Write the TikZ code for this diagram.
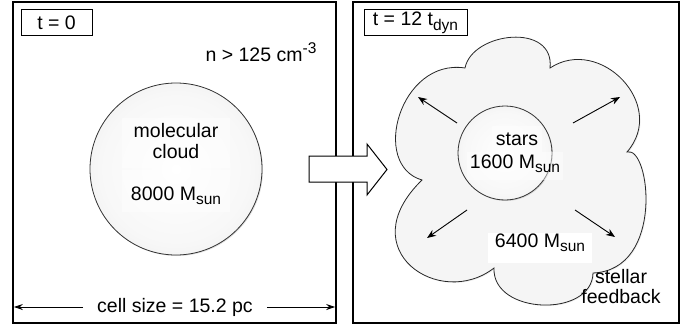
\documentclass[tikz,border=0pt]{standalone}
\usepackage{fontspec}
\setmainfont{Liberation Sans}
\usetikzlibrary{arrows.meta,shadows}
\newcommand\subx[1]{\raisebox{-0.45ex}{\fontsize{15.5}{16}\selectfont #1}}
\newcommand\supx[1]{\raisebox{0.85ex}{\fontsize{15.5}{16}\selectfont #1}}
\pgfdeclareradialshading{spherelight}{\pgfpoint{0bp}{0bp}}{color(0bp)=(white); color(22bp)=(white!97!black); color(40bp)=(white!90!black); color(50bp)=(white!80!black)}
\begin{document}
\begin{tikzpicture}[x=1pt,y=1pt,
  every node/.style={font=\fontsize{19.5}{22}\selectfont, inner sep=0pt},
  panel/.style={draw=black,line width=1.6pt},
  tag/.style={draw=black,line width=1pt,minimum height=26pt},
  sphere/.style={draw=black!80,line width=0.8pt,shading=spherelight,
    drop shadow={opacity=0.25,shadow xshift=1pt,shadow yshift=-1pt}},
  cloudfill/.style={draw=black!85,line width=0.8pt,fill=black!4,
    drop shadow={opacity=0.15,shadow xshift=1pt,shadow yshift=-1pt}},
  txt/.style={anchor=base},
  haze/.style={fill=white,fill opacity=0.45,text opacity=1},
  fb/.style={line width=0.9pt,-{Stealth[length=9pt,width=7pt]}},
  dim/.style={line width=0.9pt,-{Stealth[length=9pt,width=6pt]}}]
\useasboundingbox (0,0) rectangle (690,330);
% panels
\draw[panel] (13,7) rectangle (336,328);
\draw[panel] (353,7) rectangle (679,328);
% labels of panels
\node[tag,minimum width=71pt] (t0) at (56.5,307) {t = 0};
\node[tag,minimum width=103pt] (t12) at (415.5,307) {t = 12 t\subx{dyn}};
% left panel
\node[txt] (dens) at (261,268) {n > 125 cm\supx{-3}};
\node[sphere,circle,minimum size=172pt] (mc) at (176,161) {};
\node[haze,minimum width=108pt,minimum height=50pt] (mcbox1) at (176,187) {};
\node[haze,minimum width=108pt,minimum height=42pt] (mcbox2) at (176,139) {};
\node[txt] (molec) at (176,193) {molecular};
\node[txt] (cld) at (176,172) {cloud};
\node[txt] (mass0) at (176,130) {8000 M\subx{sun}};
\node (cell) at (175,23) [inner xsep=14pt] {cell size = 15.2 pc};
\coordinate (cellL) at (13.8,23);
\coordinate (cellR) at (335.2,23);
\draw[dim] (cell.west) -- (cellL);
\draw[dim] (cell.east) -- (cellR);
% right panel cloud
\draw[cloudfill] (422,150)
  .. controls (370,165) and (400,272) .. (465,262)
  .. controls (472,298) and (555,308) .. (550,262)
  .. controls (600,295) and (668,225) .. (627,178)
  .. controls (650,185) and (665,60) .. (593,57)
  .. controls (592,12) and (492,15) .. (494,62)
  .. controls (440,20) and (350,80) .. (422,150) -- cycle;
\node[sphere,circle,minimum size=94pt] (st) at (505,177) {};
\node[haze,minimum width=50pt,minimum height=26pt] (stbox1) at (517,191) {};
\node[haze,minimum width=96pt,minimum height=28pt] (stbox2) at (515,164) {};
\node[txt] (stars) at (517,185) {stars};
\node[txt] (mass1) at (515,162) {1600 M\subx{sun}};
\node[fill=white,minimum width=104pt,minimum height=30pt] (gasbox) at (540,82) {};
\node[txt] (mass2) at (540,83) {6400 M\subx{sun}};
\node[txt] (stel) at (621,47) {stellar};
\node[txt] (feed) at (621,27) {feedback};
% feedback arrows
\coordinate (a1s) at (457,207); \coordinate (a1e) at (418,233);
\coordinate (a2s) at (573,207); \coordinate (a2e) at (620,233);
\coordinate (a3s) at (467,120); \coordinate (a3e) at (427,92);
\coordinate (a4s) at (575,120); \coordinate (a4e) at (615,93);
\draw[fb] (a1s) -- (a1e);
\draw[fb] (a2s) -- (a2e);
\draw[fb] (a3s) -- (a3e);
\draw[fb] (a4s) -- (a4e);
% block arrow
\draw[fill=white,line width=1pt,line join=miter] (309,148) -- (367,148) -- (367,135) -- (387,160.5)
  -- (367,186) -- (367,174) -- (309,174) -- cycle;
\end{tikzpicture}
\end{document}
